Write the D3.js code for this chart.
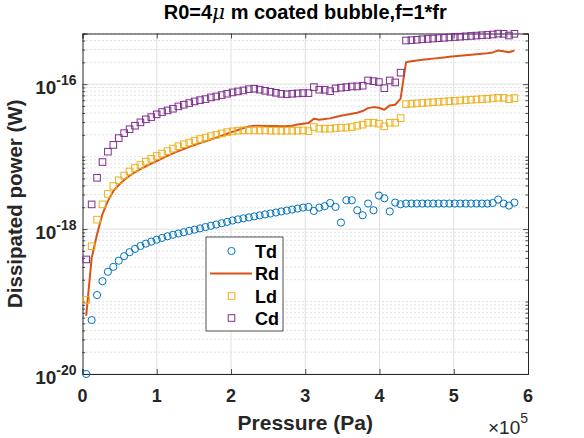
<!DOCTYPE html>
<html><head><meta charset="utf-8">
<script src="https://cdn.jsdelivr.net/npm/d3@7"></script>
<style>body{margin:0;background:#fff}svg{display:block}</style>
</head><body>
<script>
// ---- data ----
const pressure = [5000,12300,19600,26900,34200,41500,48800,56100,63400,70700,78000,85300,92600,99900,107200,114500,121800,129100,136400,143700,151000,158300,165600,172900,180200,187500,194800,202100,209400,216700,224000,231300,238600,245900,253200,260500,267800,275100,282400,289700,297000,304300,311600,318900,326200,333500,340800,348100,355400,362700,370000,377300,384600,391900,399200,406500,413800,421100,428400,435700,443000,450300,457600,464900,472200,479500,486800,494100,501400,508700,516000,523300,530600,537900,545200,552500,559800,567100,574400,581700];
const Td = [1.0e-20,5.55e-20,1.23e-19,1.91e-19,2.57e-19,3.01e-19,3.66e-19,4.23e-19,4.80e-19,5.34e-19,5.84e-19,6.29e-19,6.71e-19,7.14e-19,7.55e-19,7.96e-19,8.34e-19,8.68e-19,9.05e-19,9.44e-19,9.82e-19,1.023e-18,1.067e-18,1.111e-18,1.156e-18,1.205e-18,1.256e-18,1.312e-18,1.361e-18,1.408e-18,1.449e-18,1.497e-18,1.546e-18,1.595e-18,1.643e-18,1.692e-18,1.75e-18,1.80e-18,1.86e-18,1.92e-18,1.98e-18,2.02e-18,1.78e-18,1.98e-18,2.07e-18,2.29e-18,2.02e-18,1.23e-18,2.50e-18,2.50e-18,1.82e-18,1.55e-18,2.25e-18,1.82e-18,2.90e-18,2.66e-18,1.75e-18,2.32e-18,2.20e-18,2.25e-18,2.25e-18,2.25e-18,2.25e-18,2.25e-18,2.25e-18,2.25e-18,2.25e-18,2.25e-18,2.25e-18,2.25e-18,2.25e-18,2.25e-18,2.25e-18,2.25e-18,2.25e-18,2.29e-18,2.55e-18,2.25e-18,2.11e-18,2.32e-18];
const Rd = [6.36e-20,3.97e-19,8.5e-19,1.61e-18,2.45e-18,3.33e-18,4.07e-18,4.77e-18,5.44e-18,6.08e-18,6.70e-18,7.36e-18,8.01e-18,8.69e-18,9.44e-18,1.024e-17,1.108e-17,1.19e-17,1.273e-17,1.36e-17,1.449e-17,1.536e-17,1.623e-17,1.719e-17,1.825e-17,1.939e-17,2.065e-17,2.194e-17,2.333e-17,2.477e-17,2.604e-17,2.67e-17,2.67e-17,2.65e-17,2.64e-17,2.64e-17,2.63e-17,2.64e-17,2.67e-17,2.78e-17,2.85e-17,2.90e-17,3.34e-17,3.23e-17,3.30e-17,3.37e-17,3.51e-17,3.67e-17,3.79e-17,3.91e-17,4.04e-17,4.25e-17,4.67e-17,4.82e-17,4.73e-17,4.44e-17,5.09e-17,5.20e-17,6.30e-17,2.01e-16,2.07e-16,2.12e-16,2.17e-16,2.21e-16,2.25e-16,2.29e-16,2.34e-16,2.38e-16,2.42e-16,2.46e-16,2.50e-16,2.54e-16,2.58e-16,2.62e-16,2.67e-16,2.74e-16,2.91e-16,2.85e-16,2.76e-16,2.91e-16];
const Ld = [1.05e-19,5.80e-19,1.35e-18,2.19e-18,3.05e-18,3.93e-18,4.71e-18,5.47e-18,6.23e-18,6.96e-18,7.66e-18,8.53e-18,9.32e-18,1.02e-17,1.10e-17,1.19e-17,1.29e-17,1.39e-17,1.48e-17,1.56e-17,1.66e-17,1.75e-17,1.83e-17,1.92e-17,2.00e-17,2.09e-17,2.18e-17,2.23e-17,2.28e-17,2.30e-17,2.30e-17,2.30e-17,2.30e-17,2.30e-17,2.28e-17,2.28e-17,2.28e-17,2.28e-17,2.28e-17,2.28e-17,2.30e-17,2.25e-17,2.56e-17,2.43e-17,2.43e-17,2.43e-17,2.48e-17,2.51e-17,2.51e-17,2.56e-17,2.67e-17,2.76e-17,2.94e-17,2.94e-17,2.85e-17,2.62e-17,2.94e-17,2.94e-17,3.40e-17,5.30e-17,5.37e-17,5.43e-17,5.50e-17,5.56e-17,5.63e-17,5.69e-17,5.76e-17,5.82e-17,5.89e-17,5.95e-17,6.02e-17,6.09e-17,6.15e-17,6.22e-17,6.29e-17,6.36e-17,6.50e-17,6.46e-17,6.22e-17,6.42e-17];
const Cd = [3.81e-19,2.19e-18,5.10e-18,8.42e-18,1.17e-17,1.45e-17,1.80e-17,2.11e-17,2.39e-17,2.67e-17,2.97e-17,3.27e-17,3.51e-17,3.83e-17,4.12e-17,4.34e-17,4.58e-17,4.93e-17,5.20e-17,5.48e-17,5.78e-17,6.02e-17,6.22e-17,6.56e-17,6.77e-17,7.06e-17,7.38e-17,7.69e-17,7.94e-17,8.19e-17,8.54e-17,8.65e-17,8.40e-17,8.10e-17,7.85e-17,7.60e-17,7.35e-17,7.25e-17,7.38e-17,7.45e-17,7.52e-17,7.52e-17,9.10e-17,8.38e-17,8.38e-17,8.01e-17,8.73e-17,8.93e-17,9.10e-17,9.30e-17,9.30e-17,9.51e-17,1.125e-16,1.10e-16,1.07e-16,8.81e-17,1.125e-16,1.056e-16,1.44e-16,4.00e-16,4.05e-16,4.10e-16,4.16e-16,4.21e-16,4.26e-16,4.31e-16,4.36e-16,4.42e-16,4.47e-16,4.52e-16,4.57e-16,4.63e-16,4.68e-16,4.73e-16,4.78e-16,4.84e-16,4.98e-16,4.95e-16,4.69e-16,4.95e-16];
const seriesNames = ["Td","Rd","Ld","Cd"];
const xTickValues = [0,1e5,2e5,3e5,4e5,5e5,6e5];
const xTickLabels = ["0","1","2","3","4","5","6"];
const yMajorTicks = [1e-20,1e-18,1e-16];
const yTickExponents = ["-20","-18","-16"];
const titleText = "m coated bubble,f=1*fr";

// ---- layout ----
const W = 584, H = 438;
const L = 82.5, R = 528, T = 33.5, B = 374;
const FONT = "'Liberation Sans', Arial, Helvetica, sans-serif";
const colors = {Td:"#0072BD", Rd:"#D95319", Ld:"#EDB120", Cd:"#7E2F8E"};
const axisColor = "#262626";

const svg = d3.select("body").append("svg").attr("width",W).attr("height",H)
  .style("font-family",FONT);
svg.append("rect").attr("width",W).attr("height",H).attr("fill","#fff");

const x = d3.scaleLinear().domain([0,6e5]).range([L,R]);
const y = d3.scaleLog().domain([1e-20,5e-16]).range([B,T]);

const yMinor = [];
for (let k=-20;k<=-16;k++) for (let m=1;m<=9;m++){
  const v = m*Math.pow(10,k);
  if (v>5.0001e-16) continue;
  if (yMajorTicks.some(t=>Math.abs(t-v)/v<1e-6)) continue;
  yMinor.push(v);
}

const grid = svg.append("g");
grid.selectAll("line.ymin").data(yMinor).enter().append("line")
  .attr("x1",L).attr("x2",R).attr("y1",d=>y(d)).attr("y2",d=>y(d))
  .attr("stroke","#b8b8b8").attr("stroke-width",0.8).attr("stroke-dasharray","1,3");
grid.selectAll("line.ymaj").data(yMajorTicks).enter().append("line")
  .attr("x1",L).attr("x2",R).attr("y1",d=>y(d)).attr("y2",d=>y(d))
  .attr("stroke","#dfdfdf").attr("stroke-width",1);
grid.selectAll("line.xmaj").data(xTickValues.slice(1,-1)).enter().append("line")
  .attr("x1",d=>x(d)).attr("x2",d=>x(d)).attr("y1",T).attr("y2",B)
  .attr("stroke","#dfdfdf").attr("stroke-width",1);

const xAxisB = d3.axisBottom(x).tickValues(xTickValues).tickSize(-5).tickFormat("");
const xAxisT = d3.axisTop(x).tickValues(xTickValues).tickSize(-5).tickFormat("");
const yAxisL = d3.axisLeft(y).tickValues(yMajorTicks).tickSize(-5).tickFormat("");
const yAxisR = d3.axisRight(y).tickValues(yMajorTicks).tickSize(-5).tickFormat("");
const yAxisLm = d3.axisLeft(y).tickValues(yMinor).tickSize(-2.7).tickFormat("");
const yAxisRm = d3.axisRight(y).tickValues(yMinor).tickSize(-2.7).tickFormat("");
function styleAxis(g){ g.selectAll("path").attr("stroke",axisColor).attr("stroke-width",1);
  g.selectAll("line").attr("stroke",axisColor).attr("stroke-width",0.8); }
svg.append("g").attr("transform",`translate(0,${B})`).call(xAxisB).call(styleAxis);
svg.append("g").attr("transform",`translate(0,${T})`).call(xAxisT).call(styleAxis);
svg.append("g").attr("transform",`translate(${L},0)`).call(yAxisL).call(styleAxis);
svg.append("g").attr("transform",`translate(${R},0)`).call(yAxisR).call(styleAxis);
svg.append("g").attr("transform",`translate(${L},0)`).call(yAxisLm).call(styleAxis).select("path").remove();
svg.append("g").attr("transform",`translate(${R},0)`).call(yAxisRm).call(styleAxis).select("path").remove();

// tick labels
svg.append("g").selectAll("text").data(xTickValues).enter().append("text")
  .attr("x",d=>x(d)).attr("y",B+27.5).attr("text-anchor","middle")
  .attr("font-size",18).attr("font-weight","bold").attr("fill",axisColor)
  .text((d,i)=>xTickLabels[i]);
const yl = svg.append("g").selectAll("text").data(yMajorTicks).enter().append("text")
  .attr("x",L-6).attr("y",d=>y(d)+10).attr("text-anchor","end")
  .attr("font-size",19).attr("font-weight","bold").attr("fill",axisColor);
yl.append("tspan").text("10");
yl.append("tspan").attr("dy",-9).attr("font-size",14).text((d,i)=>yTickExponents[i]);

// multiplier
const mult = svg.append("text").attr("x",R).attr("y",434).attr("text-anchor","end")
  .attr("font-size",19).attr("fill",axisColor);
mult.append("tspan").text("\u00d710");
mult.append("tspan").attr("dy",-11).attr("font-size",14).text("5");

// axis labels
svg.append("text").attr("x",(L+R)/2).attr("y",429.5).attr("text-anchor","middle")
  .attr("font-size",21).attr("font-weight","bold").attr("fill",axisColor).text("Pressure (Pa)");
svg.append("text").attr("transform",`translate(21.5,${(T+B)/2}) rotate(-90)`).attr("text-anchor","middle")
  .attr("font-size",20.5).attr("font-weight","bold").attr("fill",axisColor).text("Dissipated power (W)");

// title
const tt = svg.append("text").attr("x",(L+R)/2).attr("y",19).attr("text-anchor","middle")
  .attr("font-size",20).attr("font-weight","bold").attr("fill","#000");
tt.append("tspan").text("R0=4");
tt.append("tspan").attr("font-style","italic").attr("font-weight","normal").attr("font-family","'DejaVu Serif', serif").text("\u03bc");
tt.append("tspan").text(" " + titleText);

// data
const pts = pressure.map((p,i)=>({p, Td:Td[i], Rd:Rd[i], Ld:Ld[i], Cd:Cd[i]}));
const line = d3.line().x(d=>x(d.p)).y(d=>y(d.Rd));
const plot = svg.append("g");
function squares(key){
  plot.append("g").selectAll("rect").data(pts).enter().append("rect")
    .attr("x",d=>x(d.p)-3.3).attr("y",d=>y(d[key])-3.3).attr("width",6.6).attr("height",6.6)
    .attr("fill","none").attr("stroke",colors[key]).attr("stroke-width",1);
}
plot.append("g").selectAll("circle").data(pts).enter().append("circle")
  .attr("cx",d=>x(d.p)).attr("cy",d=>y(d.Td)).attr("r",3.6)
  .attr("fill","none").attr("stroke",colors.Td).attr("stroke-width",1);
plot.append("path").datum(pts).attr("d",line).attr("fill","none")
  .attr("stroke",colors.Rd).attr("stroke-width",2).attr("stroke-linejoin","round");
squares("Ld");
squares("Cd");

// legend
const lg = svg.append("g");
lg.append("rect").attr("x",206).attr("y",237).attr("width",77).attr("height",94)
  .attr("fill","#fff").attr("stroke",axisColor).attr("stroke-width",0.8);
const rowsY = [251,273.5,296,318];
seriesNames.forEach((s,i)=>{
  const cy = rowsY[i];
  if (s==="Td") lg.append("circle").attr("cx",231.5).attr("cy",cy).attr("r",3.6).attr("fill","none").attr("stroke",colors[s]);
  else if (s==="Rd") lg.append("line").attr("x1",210).attr("x2",252).attr("y1",cy).attr("y2",cy).attr("stroke",colors[s]).attr("stroke-width",2);
  else lg.append("rect").attr("x",231.5-3.3).attr("y",cy-3.3).attr("width",6.6).attr("height",6.6).attr("fill","none").attr("stroke",colors[s]);
  lg.append("text").attr("x",255).attr("y",cy+6.5).attr("font-size",18).attr("font-weight","bold").attr("fill","#000").text(s);
});
</script>
</body></html>
